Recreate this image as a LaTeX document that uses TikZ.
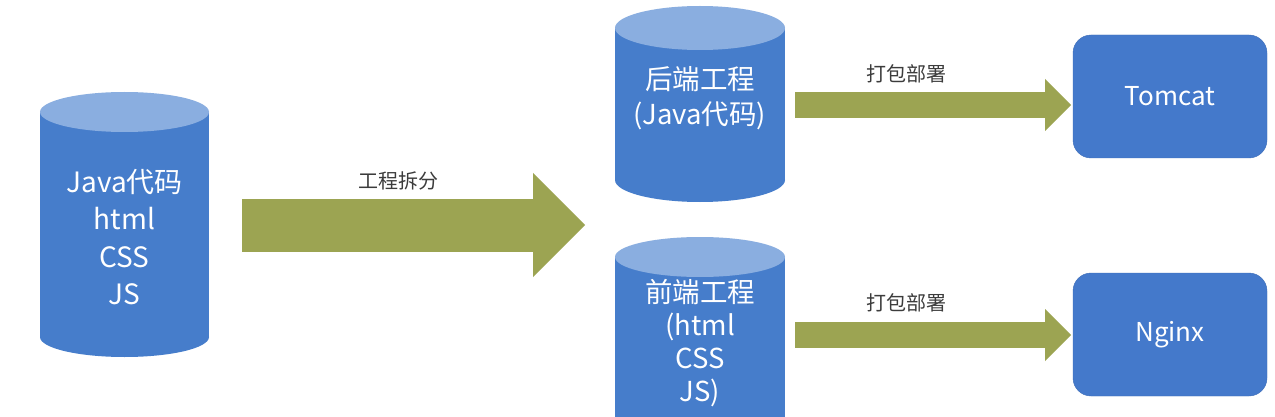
\documentclass[tikz,border=0pt]{standalone}
\usepackage{fontspec}
\setmainfont{Noto Sans CJK SC}
\usetikzlibrary{positioning,arrows.meta}
\definecolor{dbbody}{HTML}{467DCB}
\definecolor{dbtop}{HTML}{8AAEE0}
\definecolor{hostfill}{HTML}{4479CB}
\definecolor{hostedge}{HTML}{3D6DB8}
\definecolor{flowgreen}{HTML}{9CA452}
\definecolor{labelgrey}{HTML}{3C3C3C}
\tikzset{
  dbtext/.style={text=white, font=\fontsize{28}{37.5}\selectfont, align=center},
  host/.style={draw=hostedge, fill=hostfill, rounded corners=18pt, minimum width=194pt, minimum height=123pt, text=white, font=\fontsize{26}{30}\selectfont},
  steplabel/.style={text=labelgrey, font=\fontsize{20}{22}\selectfont},
  fatflow/.style={draw=flowgreen, line cap=butt, -{Triangle[length=#1pt, width=2*#1pt, line width=0pt, fill=flowgreen]}},
}
% cylinder: centre x, top y, bottom y, x radius, y radius
\newcommand{\dbcyl}[5]{%
  \fill[dbbody] (#1,#3) ellipse [x radius=#4, y radius=#5];
  \fill[dbbody] (#1-#4,#2) rectangle (#1+#4,#3);
  \fill[dbtop] (#1,#2) ellipse [x radius=#4, y radius=#5];
}
\begin{document}
\begin{tikzpicture}[x=1pt,y=-1pt]
  \clip (0,0) rectangle (1275,417);
  \fill[white] (0,0) rectangle (1275,417);
  %% cylinders
  \dbcyl{124.5}{112}{337}{84.5}{20}
  \dbcyl{700}{28}{180}{85}{22}
  \dbcyl{700}{257}{440}{85}{20}
  \node[dbtext] (monolith) at (124.5,237) {Java代码\\html\\CSS\\JS};
  \node[dbtext, font=\fontsize{27.5}{35}\selectfont] (backend) at (700,98) {后端工程\\(Java代码)};
  \node[dbtext, font=\fontsize{27.5}{33}\selectfont] (frontend) at (700,343) {前端工程\\(html\\CSS\\JS)};
  %% servers
  \node[host] (tomcat) at (1170,96.5) {Tomcat};
  \node[host] (nginx) at (1170,334.5) {Nginx};
  %% arrows
  \coordinate (splittail) at (242,225);
  \coordinate (splittip) at (585,225);
  \coordinate (backtail) at (795,105);
  \coordinate (backtip) at (1071,105);
  \coordinate (fronttail) at (795,335);
  \coordinate (fronttip) at (1071,335);
  \draw[fatflow=52, line width=53pt] (splittail) -- (splittip);
  \draw[fatflow=26, line width=26pt] (backtail) -- (backtip);
  \draw[fatflow=26, line width=26pt] (fronttail) -- (fronttip);
  \node[steplabel] (splitlabel) at (398,181) {工程拆分};
  \node[steplabel] (backlabel) at (906,74) {打包部署};
  \node[steplabel] (frontlabel) at (906,303) {打包部署};
\end{tikzpicture}
\end{document}
